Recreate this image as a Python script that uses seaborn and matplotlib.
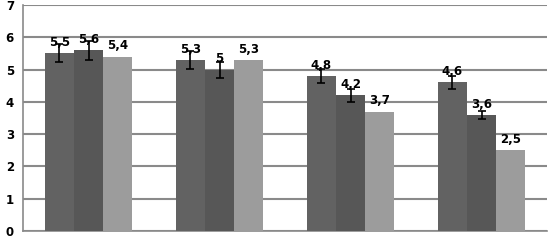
import matplotlib
matplotlib.use("Agg")
import matplotlib.pyplot as plt
import seaborn as sns
import pandas as pd

categories = ["A", "B", "C", "D"]
series_names = ["S1", "S2", "S3"]
s1_values = [5.5, 5.3, 4.8, 4.6]
s2_values = [5.6, 5.0, 4.2, 3.6]
s3_values = [5.4, 5.3, 3.7, 2.5]
s1_err = [0.28, 0.28, 0.22, 0.2]
s2_err = [0.3, 0.25, 0.2, 0.13]
s3_err = [0, 0, 0, 0]
y_ticks = [0, 1, 2, 3, 4, 5, 6, 7]

rows = []
for name, vals in zip(series_names, [s1_values, s2_values, s3_values]):
    for c, v in zip(categories, vals):
        rows.append({"cat": c, "series": name, "value": v})
df = pd.DataFrame(rows)

sns.set_style("white")
plt.rcParams["font.family"] = ["DejaVu Sans"]

fig = plt.figure(figsize=(5.48, 2.4), dpi=100)
ax = fig.add_axes([23 / 548, 9 / 240, 524 / 548, 226 / 240])

palette = ["#626262", "#575757", "#9c9c9c"]
sns.barplot(data=df, x="cat", y="value", hue="series", palette=palette,
            errorbar=None, width=0.67, saturation=1, ax=ax, legend=False,
            zorder=3, linewidth=0)

errs = [s1_err, s2_err, s3_err]
for cont, err in zip(ax.containers, errs):
    xs = [p.get_x() + p.get_width() / 2 for p in cont.patches]
    hs = [p.get_height() for p in cont.patches]
    xe = [x for x, e in zip(xs, err) if e > 0]
    he = [h for h, e in zip(hs, err) if e > 0]
    ee = [e for e in err if e > 0]
    if ee:
        ax.errorbar(xe, he, yerr=ee, fmt="none", ecolor="black",
                    elinewidth=1.2, capsize=3, capthick=1.2, zorder=4)
    labels = [f"{h:g}".replace(".", ",") for h in hs]
    ax.bar_label(cont, labels=labels, padding=3, fontsize=8.5,
                 fontweight="bold", color="black", zorder=5)

ax.set_ylim(0, 7)
ax.set_xlim(-0.5, 3.5)
ax.set_yticks(y_ticks)
ax.set_yticklabels([str(t) for t in y_ticks], fontsize=8.5, fontweight="bold",
                   color="black")
ax.yaxis.grid(True, color="#8a8a8a", linewidth=1.5, zorder=0)
ax.set_axisbelow(True)
ax.set_xticks([-0.5, 0.5, 1.5, 2.5, 3.5])
ax.set_xticklabels([])
ax.tick_params(axis="x", length=3.5, color="#8a8a8a", width=1)
ax.tick_params(axis="y", length=3.5, color="#8a8a8a", width=1.2, pad=3)
ax.set_xlabel("")
ax.set_ylabel("")
for s in ["top", "right"]:
    ax.spines[s].set_visible(False)
for s in ["left", "bottom"]:
    ax.spines[s].set_color("#8a8a8a")
    ax.spines[s].set_linewidth(1.2)

fig.savefig("out.png", dpi=100)
